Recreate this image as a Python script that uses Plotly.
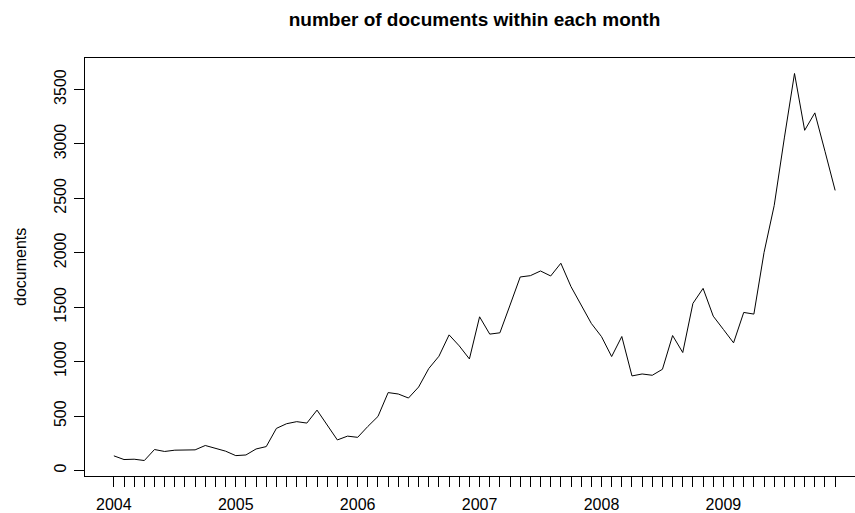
import plotly.graph_objects as go

# monthly document counts, Jan 2004 .. Dec 2009
start_year = 2004
counts = [
    135, 101, 104, 92, 193, 175, 187, 190, 190, 230, 206, 178,        # 2004
    137, 143, 198, 220, 387, 430, 449, 436, 555, 417, 281, 316,       # 2005
    305, 405, 497, 716, 703, 666, 767, 937, 1050, 1246, 1145, 1025,   # 2006
    1412, 1253, 1265, 1520, 1778, 1790, 1833, 1787, 1904, 1689, 1520, 1351,  # 2007
    1230, 1047, 1231, 869, 887, 875, 930, 1240, 1084, 1535, 1673, 1418,      # 2008
    1296, 1173, 1452, 1437, 2002, 2434, 3055, 3647, 3125, 3285, 2932, 2573,  # 2009
]
year_labels = ["2004", "2005", "2006", "2007", "2008", "2009"]
y_ticks = [0, 500, 1000, 1500, 2000, 2500, 3000, 3500]

t = [start_year + i / 12 for i in range(len(counts))]
tick_text = [year_labels[i // 12] if i % 12 == 0 else "" for i in range(len(counts))]

# R-style 4% axis extension
xspan = t[-1] - t[0]
x0 = t[0] - 0.04 * xspan
x1_full = t[-1] + 0.04 * xspan
W, H = 855, 513
left, top, bottom = 85, 58, 37
full_w = 864 - left  # R plot region extends beyond image
x1 = x0 + (x1_full - x0) * (W - left) / full_w
ymin, ymax = min(counts), max(counts)
yspan = ymax - ymin
yr = [ymin - 0.04 * yspan, ymax + 0.04 * yspan]

font = "Liberation Sans, Arial, Helvetica, sans-serif"

fig = go.Figure()
fig.add_trace(go.Scatter(x=t, y=counts, mode="lines",
                         line=dict(color="black", width=1), hoverinfo="skip"))

fig.update_layout(
    width=W, height=H,
    margin=dict(l=left, r=0, t=top, b=bottom, pad=0),
    paper_bgcolor="white", plot_bgcolor="white",
    showlegend=False,
    font=dict(family=font, size=16, color="black"),
    title=dict(text="<b>number of documents within each month</b>",
               font=dict(family=font, size=19, color="black"),
               x=474.5 / W, xref="container", xanchor="center",
               y=1 - 19 / H, yref="container", yanchor="middle"),
)
fig.update_xaxes(range=[x0, x1], tickvals=t, ticktext=tick_text, automargin=False,
                 ticks="outside", ticklen=10, tickcolor="black", tickwidth=1,
                 ticklabelstandoff=4,
                 showline=True, linecolor="black", linewidth=1, mirror=True,
                 showgrid=False, zeroline=False,
                 tickfont=dict(family=font, size=16, color="black"))
fig.update_yaxes(range=yr, tickvals=y_ticks, ticktext=[str(v) for v in y_ticks],
                 tickangle=-90, automargin=False,
                 ticks="outside", ticklen=10, tickcolor="black", tickwidth=1,
                 ticklabelstandoff=2,
                 showline=True, linecolor="black", linewidth=1,
                 showgrid=False, zeroline=False,
                 tickfont=dict(family=font, size=16, color="black"))
fig.add_annotation(text="documents", textangle=-90, xref="paper", yref="paper",
                   x=(20 - left) / (W - left), y=0.5, xanchor="center", yanchor="middle",
                   showarrow=False, font=dict(family=font, size=16, color="black"))

fig.write_html("out.html", config={"displayModeBar": False, "staticPlot": True},
               post_script="document.body.style.margin='0';document.body.style.padding='0';")
